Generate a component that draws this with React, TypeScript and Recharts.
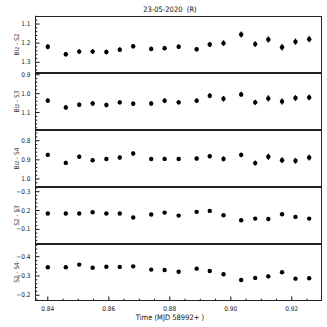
import { ScatterChart, Scatter, XAxis, YAxis, ErrorBar } from "recharts";

// time offsets (MJD 58992+)
const times = [0.84, 0.8459, 0.8503, 0.8547, 0.8592, 0.8636, 0.868, 0.8739, 0.8783, 0.8829, 0.8888, 0.8931, 0.8976, 0.9034, 0.908, 0.9123, 0.9168, 0.9212, 0.9257];

const bizS2 = [1.219, 1.258, 1.244, 1.244, 1.246, 1.234, 1.216, 1.23, 1.226, 1.219, 1.232, 1.207, 1.2, 1.155, 1.205, 1.181, 1.221, 1.192, 1.179];
const bizS2Err = [0.013, 0.012, 0.012, 0.012, 0.012, 0.012, 0.012, 0.012, 0.012, 0.012, 0.011, 0.013, 0.015, 0.016, 0.015, 0.016, 0.017, 0.016, 0.016];

const bizS3 = [1.037, 1.073, 1.059, 1.052, 1.06, 1.046, 1.053, 1.052, 1.037, 1.046, 1.037, 1.011, 1.027, 1.004, 1.046, 1.025, 1.041, 1.023, 1.02];
const bizS3Err = [0.013, 0.012, 0.012, 0.013, 0.012, 0.012, 0.012, 0.012, 0.013, 0.012, 0.012, 0.013, 0.015, 0.014, 0.014, 0.016, 0.016, 0.015, 0.015];

const bizS4 = [0.874, 0.916, 0.884, 0.902, 0.896, 0.888, 0.867, 0.896, 0.895, 0.896, 0.893, 0.881, 0.895, 0.874, 0.917, 0.884, 0.902, 0.905, 0.888];
const bizS4Err = [0.011, 0.011, 0.01, 0.01, 0.01, 0.01, 0.01, 0.01, 0.011, 0.01, 0.01, 0.011, 0.014, 0.013, 0.013, 0.016, 0.015, 0.015, 0.015];

const s2S3 = [-0.184, -0.184, -0.184, -0.191, -0.184, -0.184, -0.163, -0.179, -0.189, -0.173, -0.193, -0.198, -0.175, -0.148, -0.157, -0.155, -0.18, -0.166, -0.157];
const s2S3Err = [0.004, 0.004, 0.004, 0.004, 0.004, 0.004, 0.004, 0.004, 0.004, 0.004, 0.004, 0.004, 0.004, 0.004, 0.005, 0.005, 0.005, 0.005, 0.005];

const s2S4 = [-0.345, -0.345, -0.359, -0.343, -0.348, -0.347, -0.35, -0.333, -0.331, -0.322, -0.338, -0.326, -0.309, -0.279, -0.29, -0.298, -0.319, -0.286, -0.288];
const s2S4Err = [0.005, 0.005, 0.005, 0.005, 0.005, 0.005, 0.005, 0.005, 0.005, 0.005, 0.005, 0.005, 0.006, 0.006, 0.007, 0.01, 0.007, 0.007, 0.007];

const xMajor = [0.84, 0.86, 0.88, 0.9, 0.92];
const xDomain: [number, number] = [0.8358, 0.9299];

const FONT = "'DejaVu Sans Condensed', 'DejaVu Sans', sans-serif";
const PAD = 6; // room above each plot so edge labels are not clipped
const PLOT_H = 57;

function stepTicks(domain: [number, number], step: number) {
  const lo = Math.min(domain[0], domain[1]);
  const hi = Math.max(domain[0], domain[1]);
  const out: number[] = [];
  for (let v = Math.ceil(lo / step - 1e-9) * step; v <= hi + 1e-9; v += step) {
    out.push(Math.round(v * 1000) / 1000);
  }
  return out;
}

const isMajor = (v: number, majors: number[]) => majors.some((m) => Math.abs(m - v) < 1e-6);
const fmt = (v: number, d: number) => (v < 0 ? "\u2212" + Math.abs(v).toFixed(d) : v.toFixed(d));

function XTick(props: any) {
  const { x, y, payload, showLabel } = props;
  const major = isMajor(payload.value, xMajor);
  return (
    <g>
      <line x1={x} x2={x} y1={y} y2={y - (major ? 4.5 : 2.3)} stroke="#111" strokeWidth={1} />
      {showLabel && major && (
        <text x={x} y={y + 9.5} textAnchor="middle" fontSize={6.5} fontFamily={FONT} fill="#222">
          {fmt(payload.value, 2)}
        </text>
      )}
    </g>
  );
}

function YTick(props: any) {
  const { x, y, payload, majors } = props;
  const major = isMajor(payload.value, majors);
  return (
    <g>
      <line x1={x} x2={x + (major ? 4.5 : 2.3)} y1={y} y2={y} stroke="#111" strokeWidth={1} />
      {major && (
        <text x={x - 4.5} y={y} textAnchor="end" dominantBaseline="central" fontSize={6.5} fontFamily={FONT} fill="#222">
          {fmt(payload.value, 1)}
        </text>
      )}
    </g>
  );
}

interface PanelProps {
  top: number;
  values: number[];
  errors: number[];
  domain: [number, number];
  majors: number[];
  label: string;
  bottom?: boolean;
}

function Panel({ top, values, errors, domain, majors, label, bottom }: PanelProps) {
  const data = times.map((t, i) => ({ x: t, y: values[i], e: errors[i] }));
  const yTicks = stepTicks(domain, 0.02);
  const xTicks = stepTicks(xDomain, 0.005);
  const axisH = bottom ? 22 : 0;
  return (
    <div style={{ position: "absolute", left: 0, top: top - PAD }}>
      <ScatterChart width={327} height={PLOT_H + PAD + axisH} margin={{ top: PAD, right: 5, bottom: 0, left: 0 }}>
        <XAxis
          type="number"
          dataKey="x"
          domain={xDomain}
          allowDataOverflow
          ticks={xTicks}
          interval={0}
          height={axisH}
          axisLine={false}
          tickLine={false}
          tickSize={0}
          tickMargin={0}
          tick={(p: any) => <XTick {...p} showLabel={bottom} />}
        />
        <YAxis
          type="number"
          dataKey="y"
          domain={domain}
          allowDataOverflow
          reversed
          ticks={yTicks}
          interval={0}
          width={35}
          axisLine={false}
          tickLine={false}
          tickSize={0}
          tickMargin={0}
          tick={(p: any) => <YTick {...p} majors={majors} />}
          label={{
            content: () => (
              <text
                x={17}
                y={PAD + PLOT_H / 2}
                transform={`rotate(-90 17 ${PAD + PLOT_H / 2})`}
                textAnchor="middle"
                dominantBaseline="central"
                fontSize={6.5}
                fontFamily={FONT}
                fill="#333"
              >
                {label}
              </text>
            ),
          }}
        />
        <Scatter
          data={data}
          isAnimationActive={false}
          shape={(p: any) => <circle cx={p.cx} cy={p.cy} r={2.2} fill="#000" />}
        >
          <ErrorBar dataKey="e" direction="y" width={0} stroke="#000" strokeWidth={1.3} />
        </Scatter>
      </ScatterChart>
      <div
        style={{
          position: "absolute",
          left: 35,
          top: PAD,
          width: 287,
          height: PLOT_H,
          border: "1px solid #222",
          boxSizing: "border-box",
          pointerEvents: "none",
        }}
      />
    </div>
  );
}

export default function App() {
  return (
    <div style={{ position: "absolute", left: 0, top: 0, width: 327, height: 327, background: "#fff" }}>
      <div
        style={{
          position: "absolute",
          left: 110,
          width: 120,
          top: 5,
          textAlign: "center",
          fontFamily: FONT,
          fontSize: 7.5,
          lineHeight: "9px",
          color: "#111",
          whiteSpace: "pre",
        }}
      >
        {"23-05-2020  (R)"}
      </div>
      <Panel top={16} values={bizS2} errors={bizS2Err} domain={[1.058, 1.356]} majors={[1.1, 1.2, 1.3]} label="Biz - S2" />
      <Panel top={73} values={bizS3} errors={bizS3Err} domain={[0.891, 1.192]} majors={[0.9, 1.0, 1.1]} label="Biz - S3" />
      <Panel top={130} values={bizS4} errors={bizS4Err} domain={[0.744, 1.042]} majors={[0.8, 0.9, 1.0]} label="Biz - S4" />
      <Panel top={187} values={s2S3} errors={s2S3Err} domain={[-0.325, -0.022]} majors={[-0.3, -0.2, -0.1]} label="S2 - S3" />
      <Panel top={244} values={s2S4} errors={s2S4Err} domain={[-0.466, -0.17]} majors={[-0.4, -0.3, -0.2]} label="S2 - S4" bottom />
      <div
        style={{
          position: "absolute",
          left: 110,
          width: 120,
          top: 313,
          textAlign: "center",
          fontFamily: FONT,
          fontSize: 7.5,
          lineHeight: "9px",
          color: "#111",
          whiteSpace: "pre",
        }}
      >
        {"Time (MJD 58992+ )"}
      </div>
    </div>
  );
}
